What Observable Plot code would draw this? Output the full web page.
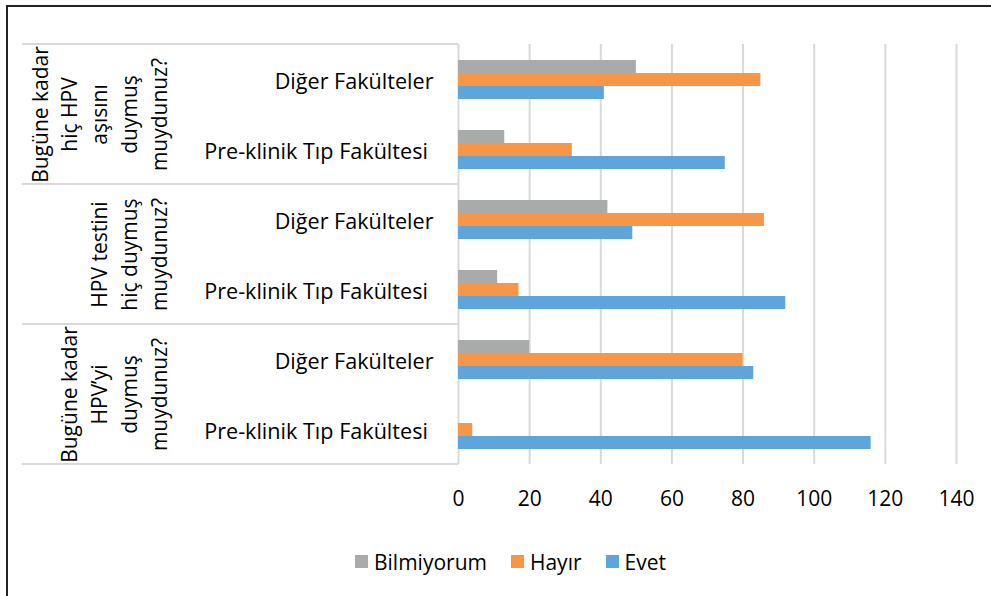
<!DOCTYPE html>
<html><head><meta charset="utf-8">
<script src="https://cdn.jsdelivr.net/npm/d3@7"></script>
<script src="https://cdn.jsdelivr.net/npm/@observablehq/plot@0.6"></script>
<style>
html,body{margin:0;padding:0;background:#fff;}
#wrap{position:relative;width:991px;height:596px;overflow:hidden;font-family:'Open Sans',sans-serif;background:#fff;}
#frame{position:absolute;left:6px;top:5px;width:1000px;height:600px;border-top:2px solid #222;border-left:2px solid #222;pointer-events:none;}
#chart{position:absolute;left:0;top:0;}
#legend{position:absolute;left:355px;top:545px;}
.lg-swatch > svg{margin-right:6px !important;}
.lg-swatch{margin-right:24px !important;}
</style></head><body>
<div id="wrap"><div id="chart"></div><div id="legend"></div><div id="frame"></div></div>
<script>
// ---- data ----
const questions = [
  "Bugüne kadar hiç HPV aşısını duymuş muydunuz?",
  "HPV testini hiç duymuş muydunuz?",
  "Bugüne kadar HPV’yi duymuş muydunuz?"
];
const questionLabels = [
  "Bugüne kadar\nhiç HPV\naşısını\nduymuş\nmuydunuz?",
  "HPV testini\nhiç duymuş\nmuydunuz?",
  "Bugüne kadar\nHPV’yi\nduymuş\nmuydunuz?"
];
const faculties = ["Diğer Fakülteler", "Pre-klinik Tıp Fakültesi "];
const series = ["Bilmiyorum", "Hayır", "Evet"];
const colors = ["#A9ABAB", "#F79646", "#5DA5DA"];
// order: q1 Diğer, q1 Pre-klinik, q2 Diğer, q2 Pre-klinik, q3 Diğer, q3 Pre-klinik
const bilmiyorum = [50, 13, 42, 11, 20, 0];
const hayir      = [85, 32, 86, 17, 80, 4];
const evet       = [41, 75, 49, 92, 83, 116];
const xTicks = [0, 20, 40, 60, 80, 100, 120, 140];

// ---- build table ----
const seriesValues = [bilmiyorum, hayir, evet];
const clusterKey = (qi, fi) => `${qi}-${fi}`;
const clusterKeys = questions.flatMap((q, qi) => faculties.map((f, fi) => clusterKey(qi, fi)));
const facultyOf = k => faculties[+k.split("-")[1]];
const rows = questions.flatMap((q, qi) => faculties.flatMap((f, fi) => series.map((s, si) => ({
  cluster: clusterKey(qi, fi), faculty: f, series: s, value: seriesValues[si][qi * faculties.length + fi]
}))));

const font = "'Open Sans', sans-serif";
const chart = Plot.plot({
  width: 991, height: 530,
  marginTop: 42, marginBottom: 65, marginLeft: 458, marginRight: 35,
  style: {fontFamily: font, fontSize: "21px", color: "#000", background: "transparent", overflow: "visible"},
  x: {domain: [0, 140]},
  y: {domain: series, paddingInner: 0, paddingOuter: 1.07, axis: null},
  fy: {domain: clusterKeys, padding: 0},
  color: {domain: series, range: colors},
  marks: [
    Plot.gridX(xTicks, {stroke: "#d9d9d9", strokeOpacity: 1, strokeWidth: 2}),
    Plot.barX(rows, {x: "value", y: "series", fy: "cluster", fill: "series"}),
    Plot.axisX({ticks: xTicks, tickSize: 0, tickPadding: 27, fontSize: 21, label: null}),
    Plot.axisFy({anchor: "left", tickSize: 0, tickPadding: 25, dy: 3, fontSize: 21.6, label: null,
      tickFormat: k => facultyOf(k).replace(/ $/, "\u00a0")}),
    Plot.text(questions, {
      fy: (q, i) => clusterKey(i, 0), text: (q, i) => questionLabels[i],
      frameAnchor: "bottom-left", rotate: -90, textAnchor: "middle", lineAnchor: "bottom",
      lineHeight: 1.414, dx: -292, fontSize: 21, fill: "#000"
    })
  ]
});
document.getElementById("chart").appendChild(chart);

// table separator lines between question groups, placed with the fy and x scales
const fyS = chart.scale("fy"), xS = chart.scale("x");
const band = fyS.bandwidth ?? (fyS.range[1] - fyS.range[0]) / fyS.domain.length;
const x0 = xS.apply(0);
const lineYs = questions.map((q, i) => fyS.apply(clusterKey(i, 0)));
lineYs.push(fyS.apply(clusterKey(questions.length - 1, faculties.length - 1)) + band);
d3.select(chart).append("g")
  .attr("stroke", "#d9d9d9").attr("stroke-width", 2)
  .selectAll("line").data(lineYs).join("line")
  .attr("x1", 22).attr("x2", x0).attr("y1", d => d).attr("y2", d => d);

const legend = Plot.legend({
  color: {type: "categorical", domain: series, range: colors},
  legend: "swatches", swatchSize: 13, className: "lg",
  style: {fontFamily: font, fontSize: "21px", color: "#000"}
});
document.getElementById("legend").appendChild(legend);
</script>
</body></html>
